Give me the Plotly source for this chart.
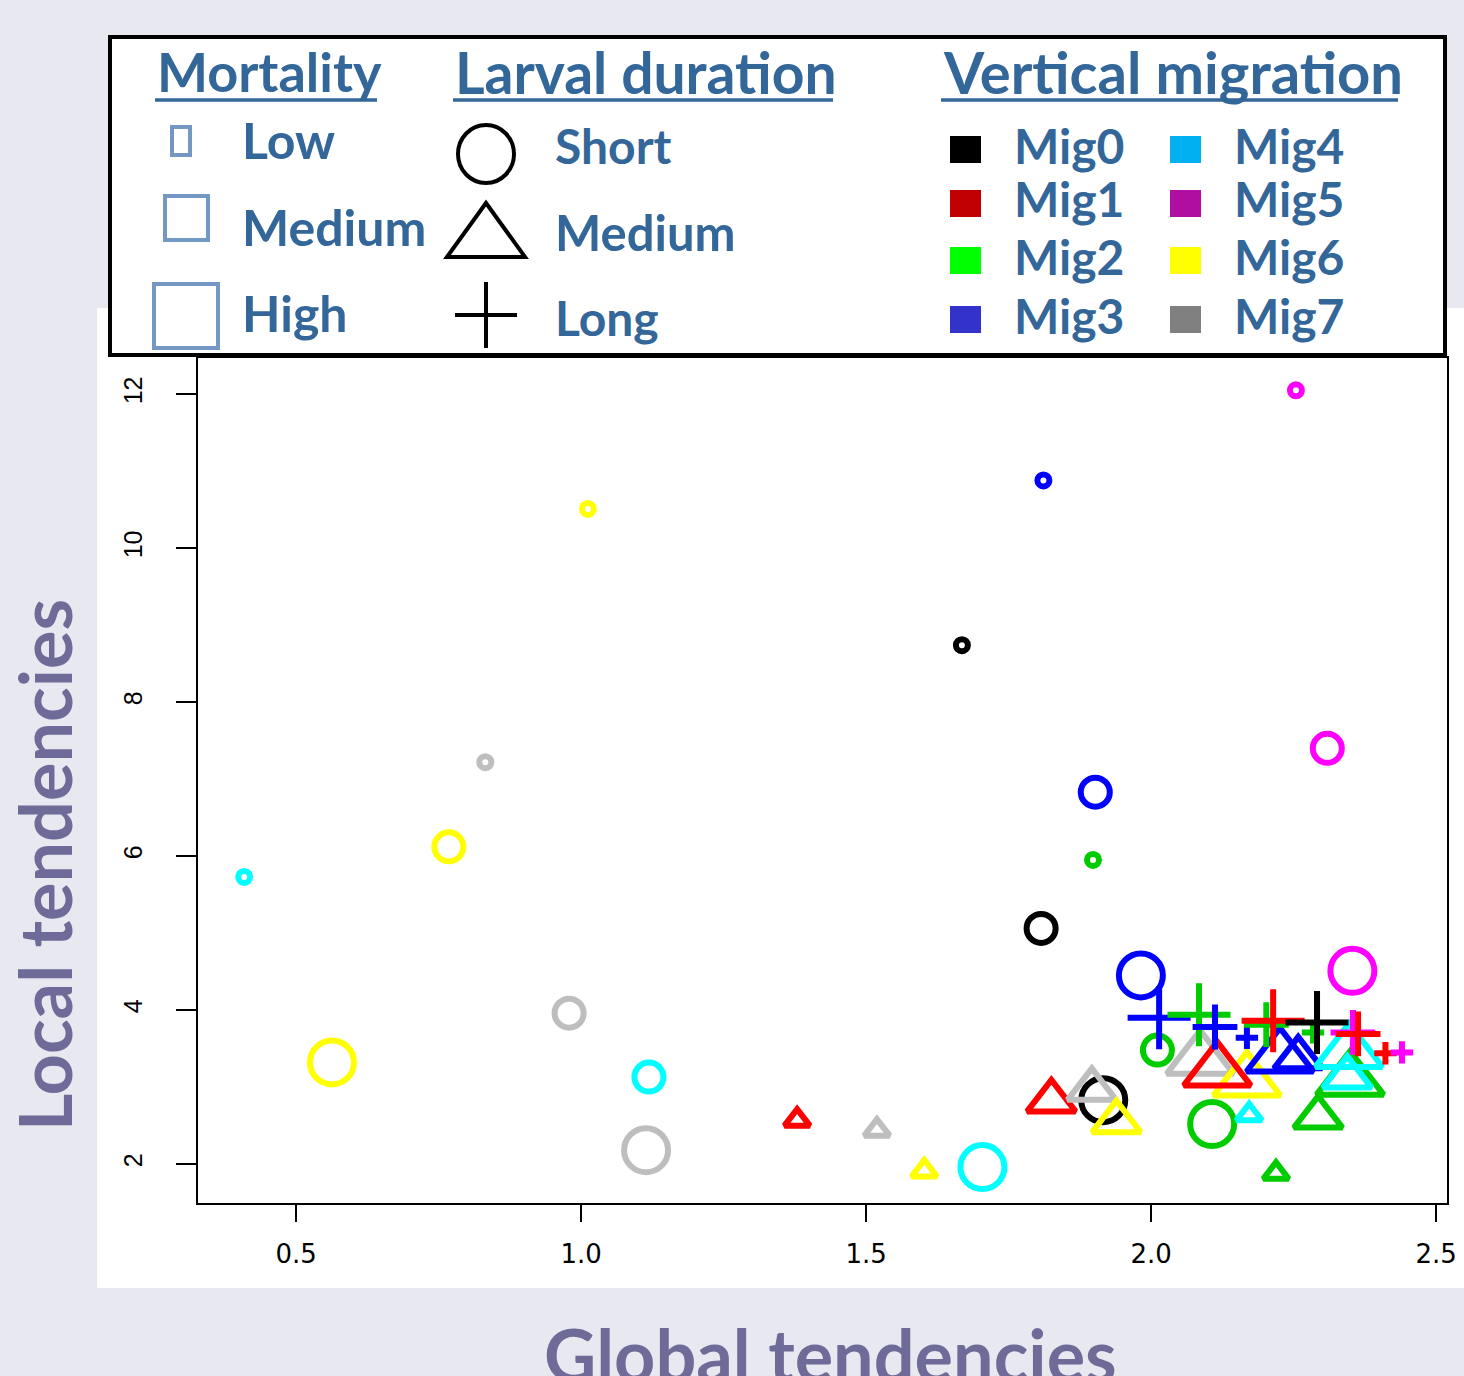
import plotly.graph_objects as go

# ---------------- data ----------------
mig_names = ["Mig0", "Mig1", "Mig2", "Mig3", "Mig4", "Mig5", "Mig6", "Mig7"]
mig_colors_pts = ["#000000", "#ff0000", "#00cc00", "#0000ff", "#00ffff", "#ff00ff", "#ffff00", "#bebebe"]
mig_colors_leg = ["#000000", "#c00000", "#00ff00", "#3333cc", "#00b0f0", "#b00ea0", "#ffff00", "#808080"]

# Short larval duration (circles)
circ_x = [2.254, 1.811, 1.012, 1.668, 0.832, 2.309, 1.902, 1.898, 0.768, 0.409, 1.807,
          1.982, 2.353, 0.979, 0.563, 1.119, 1.114, 1.704, 2.011, 1.916, 2.107]
circ_y = [12.05, 10.88, 10.51, 8.74, 7.22, 7.40, 6.83, 5.95, 6.12, 5.73, 5.06,
          4.45, 4.51, 3.96, 3.32, 3.13, 2.18, 1.96, 3.48, 2.83, 2.52]
circ_mig = [5, 3, 6, 0, 7, 5, 3, 2, 6, 4, 0, 3, 5, 7, 6, 4, 7, 4, 2, 0, 2]
circ_mort = ["Low", "Low", "Low", "Low", "Low", "Medium", "Medium", "Low", "Medium", "Low", "Medium",
             "High", "High", "Medium", "High", "Medium", "High", "High", "Medium", "High", "High"]

# Medium larval duration (triangles)
tri_x = [1.379, 1.519, 1.602, 1.825, 1.896, 1.939, 2.172, 2.293, 2.219,
         2.086, 2.168, 2.116, 2.226, 2.258, 2.349, 2.347, 2.344]
tri_y = [2.57, 2.44, 1.91, 2.82, 2.97, 2.55, 2.64, 2.61, 1.88,
         3.36, 3.08, 3.21, 3.39, 3.38, 3.09, 3.45, 3.13]
tri_mig = [1, 7, 6, 1, 7, 6, 4, 2, 2, 7, 6, 1, 3, 3, 2, 4, 4]
tri_mort = ["Low", "Low", "Low", "Medium", "Medium", "Medium", "Low", "Medium", "Low",
            "High", "High", "High", "High", "Medium", "High", "High", "Medium"]

# Long larval duration (crosses)
crs_x = [2.014, 2.084, 2.112, 2.168, 2.202, 2.284, 2.214, 2.291, 2.354, 2.363, 2.411, 2.440]
crs_y = [3.90, 3.94, 3.78, 3.64, 3.81, 3.71, 3.86, 3.84, 3.71, 3.69, 3.44, 3.45]
crs_mig = [3, 2, 3, 3, 2, 2, 1, 0, 5, 1, 1, 5]
crs_mort = ["High", "High", "Medium", "Low", "Medium", "Low", "High", "High", "Medium", "Medium", "Low", "Low"]

x_ticks = [0.5, 1.0, 1.5, 2.0, 2.5]
x_ticktext = ["0.5", "1.0", "1.5", "2.0", "2.5"]
y_ticks = [2, 4, 6, 8, 10, 12]

# ---------------- styling ----------------
W, H = 1464, 1376
TXT = "#336699"
TITLE = "#6e6b98"
MORT_EDGE = "#7398c4"

sizes = {
    "circle-open": {"Low": 12, "Medium": 29, "High": 44},
    "triangle-up-open": {"Low": 22, "Medium": 42, "High": 58},
    "cross-thin-open": {"Low": 16, "Medium": 32, "High": 45},
}


def px(x):
    return x / W


def py(y):
    return 1 - y / H


fig = go.Figure()

groups = [
    ("circle-open", circ_x, circ_y, circ_mig, circ_mort),
    ("triangle-up-open", tri_x, tri_y, tri_mig, tri_mort),
    ("cross-thin-open", crs_x, crs_y, crs_mig, crs_mort),
]
for sym, xs, ys, migs, morts in groups:
    fig.add_trace(go.Scatter(
        x=xs, y=ys, mode="markers",
        marker=dict(symbol=sym, opacity=1,
                    size=[sizes[sym][m] for m in morts],
                    color=[mig_colors_pts[i] for i in migs],
                    line=dict(width=6, color=[mig_colors_pts[i] for i in migs])),
        showlegend=False, hoverinfo="x+y",
    ))

shapes = []
# white image area behind the chart
shapes.append(dict(type="rect", xref="paper", yref="paper", x0=px(97), x1=px(1464), y0=py(1288), y1=py(308),
                   fillcolor="white", line=dict(width=0), layer="below"))
# legend box
shapes.append(dict(type="rect", xref="paper", yref="paper", x0=px(110), x1=px(1445), y0=py(355), y1=py(37),
                   fillcolor="white", line=dict(color="black", width=4), layer="below"))
# header underlines
for x0, x1 in [(155, 377), (453, 833), (941, 1398)]:
    shapes.append(dict(type="line", xref="paper", yref="paper", x0=px(x0), x1=px(x1), y0=py(100), y1=py(100),
                       line=dict(color=TXT, width=3.5), layer="above"))
# mortality squares
for (x0, y0, x1, y1) in [(172, 127, 190, 155), (165, 196, 208, 240), (154, 284, 218, 348)]:
    shapes.append(dict(type="rect", xref="paper", yref="paper", x0=px(x0), x1=px(x1), y0=py(y1), y1=py(y0),
                       line=dict(color=MORT_EDGE, width=4), fillcolor="rgba(0,0,0,0)"))
# larval duration symbols
shapes.append(dict(type="circle", xref="paper", yref="paper", x0=px(458), x1=px(514), y0=py(183), y1=py(125),
                   line=dict(color="black", width=4)))
tri_path = "M {:.5f},{:.5f} L {:.5f},{:.5f} L {:.5f},{:.5f} Z".format(px(447), py(257), px(486), py(203), px(525), py(257))
shapes.append(dict(type="path", xref="paper", yref="paper", path=tri_path, line=dict(color="black", width=4)))
shapes.append(dict(type="line", xref="paper", yref="paper", x0=px(455), x1=px(517), y0=py(315), y1=py(315),
                   line=dict(color="black", width=4)))
shapes.append(dict(type="line", xref="paper", yref="paper", x0=px(486), x1=px(486), y0=py(282), y1=py(348),
                   line=dict(color="black", width=4)))
# migration colour squares
row_y = [149, 203, 260, 319]
for i, name in enumerate(mig_names):
    cx = 950 if i < 4 else 1170
    cy = row_y[i % 4]
    shapes.append(dict(type="rect", xref="paper", yref="paper", x0=px(cx), x1=px(cx + 31),
                       y0=py(cy + 14), y1=py(cy - 13), fillcolor=mig_colors_leg[i], line=dict(width=0)))

annotations = []


def ann(text, x, y, size, color=TXT, xanchor="left", angle=0):
    annotations.append(dict(text=text, xref="paper", yref="paper", x=px(x), y=py(y), xanchor=xanchor,
                            yanchor="middle", showarrow=False, textangle=angle,
                            font=dict(family="Lato", size=size, color=color, weight="bold")))


ann("Mortality", 155, 72, 54)
ann("Larval duration", 453, 72, 57)
ann("Vertical migration", 941, 72, 58)
ann("Low", 240, 140, 50)
ann("Medium", 240, 227, 50)
ann("High", 240, 313, 50)
ann("Short", 553, 146, 48)
ann("Medium", 553, 232, 49)
ann("Long", 553, 318, 48)
for i, name in enumerate(mig_names):
    ann(name, 1012 if i < 4 else 1232, row_y[i % 4] - 4, 48)

ann("Global tendencies", 830, 1354, 72, color=TITLE, xanchor="center")
ann("Local tendencies", 44, 865, 72, color=TITLE, xanchor="center", angle=-90)

fig.update_layout(
    width=W, height=H, autosize=False,
    margin=dict(l=0, r=0, t=0, b=0, autoexpand=False),
    paper_bgcolor="#e8e8f0",
    plot_bgcolor="white",
    shapes=shapes,
    annotations=annotations,
    xaxis=dict(domain=[px(198), px(1447)], range=[0.328, 2.519], tickvals=x_ticks, ticktext=x_ticktext,
               automargin=False,
               ticks="outside", ticklen=17, tickwidth=1.5, tickcolor="black",
               showline=True, mirror=True, linecolor="black", linewidth=2,
               showgrid=False, zeroline=False, ticklabelstandoff=10,
               tickfont=dict(family="DejaVu Sans", size=26, color="black")),
    yaxis=dict(domain=[py(1203), py(358)], range=[1.494, 12.47], tickvals=y_ticks,
               automargin=False,
               ticks="outside", ticklen=20, tickwidth=1.5, tickcolor="black", tickangle=-90,
               showline=True, mirror=True, linecolor="black", linewidth=2,
               showgrid=False, zeroline=False, ticklabelstandoff=24,
               tickfont=dict(family="Liberation Sans", size=25, color="black")),
)

post = (
    "document.documentElement.style.margin='0';"
    "document.documentElement.style.overflow='hidden';"
    "document.body.style.margin='0';"
    "document.body.style.overflow='hidden';"
)
fig.write_html("out.html", config={"responsive": False, "displayModeBar": False}, post_script=post)
